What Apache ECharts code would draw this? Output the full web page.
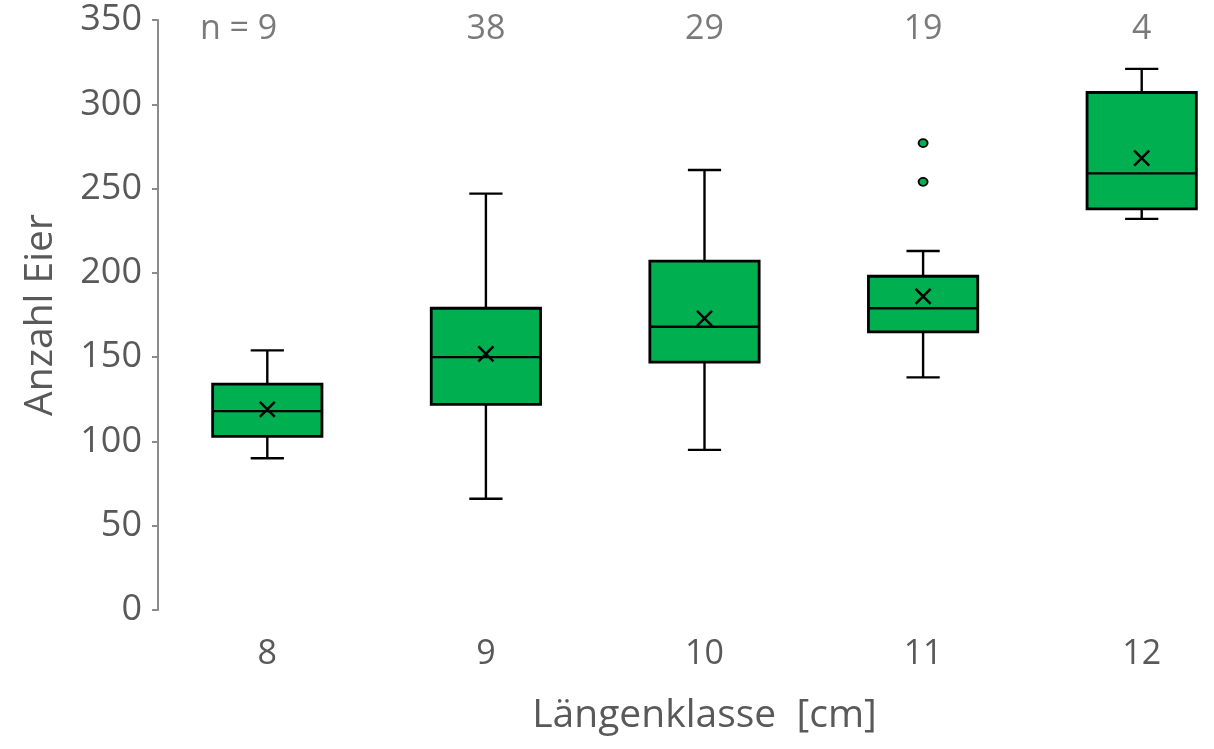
<!DOCTYPE html>
<html>
<head>
<meta charset="utf-8">
<script src="https://cdn.jsdelivr.net/npm/echarts@6/dist/echarts.min.js"></script>
<style>
html,body{margin:0;padding:0;background:#fff;}
#main{width:1214px;height:749px;}
</style>
</head>
<body>
<div id="main"></div>
<script>
// ---- data ----
const categories  = ['8', '9', '10', '11', '12'];
const whiskerLow  = [90, 66, 95, 138, 232];
const quartile1   = [103, 122, 147, 165, 238];
const medianVal   = [118, 150, 168, 179, 259];
const quartile3   = [134, 179, 207, 198, 307];
const whiskerHigh = [154, 247, 261, 213, 321];
const meanVal     = [119, 152, 173, 186, 268];
const outlierCat  = [3, 3];
const outlierVal  = [277, 254];
const counts      = [9, 38, 29, 19, 4];
const yTicks      = [0, 50, 100, 150, 200, 250, 300, 350];

const TEXT = '#595959';
const FONT = 'Open Sans';

const boxData = categories.map((c, i) => [i, whiskerLow[i], quartile1[i], medianVal[i], quartile3[i], whiskerHigh[i], meanVal[i]]);
const outlierData = outlierCat.map((c, i) => [c, outlierVal[i]]);
const countData = counts.map((n, i) => {
  const d = { value: [i, yTicks[yTicks.length - 1]], n: n };
  if (i === 0) d.label = { align: 'right', offset: [10, 9] };
  return d;
});

function renderBox(params, api) {
  const x = api.value(0);
  const band = api.size([1, 0])[0];
  const half = band * 0.25;
  const capHalf = band * 0.076;
  const pLow = api.coord([x, api.value(1)]);
  const pQ1 = api.coord([x, api.value(2)]);
  const pMed = api.coord([x, api.value(3)]);
  const pQ3 = api.coord([x, api.value(4)]);
  const pHigh = api.coord([x, api.value(5)]);
  const pMean = api.coord([x, api.value(6)]);
  const cx = pMed[0];
  const line = { stroke: '#000', lineWidth: 2.4 };
  const m = 7.5;
  return {
    type: 'group',
    children: [
      { type: 'line', shape: { x1: cx, y1: pHigh[1], x2: cx, y2: pQ3[1] }, style: line },
      { type: 'line', shape: { x1: cx, y1: pLow[1], x2: cx, y2: pQ1[1] }, style: line },
      { type: 'line', shape: { x1: cx - capHalf, y1: pHigh[1], x2: cx + capHalf, y2: pHigh[1] }, style: line },
      { type: 'line', shape: { x1: cx - capHalf, y1: pLow[1], x2: cx + capHalf, y2: pLow[1] }, style: line },
      { type: 'rect', shape: { x: cx - half, y: pQ3[1], width: half * 2, height: pQ1[1] - pQ3[1] },
        style: { fill: '#00AF50', stroke: '#000', lineWidth: 2.8 } },
      { type: 'line', shape: { x1: cx - half, y1: pMed[1], x2: cx + half, y2: pMed[1] }, style: line },
      { type: 'line', shape: { x1: cx - m, y1: pMean[1] - m, x2: cx + m, y2: pMean[1] + m }, style: { stroke: '#000', lineWidth: 2.5 } },
      { type: 'line', shape: { x1: cx - m, y1: pMean[1] + m, x2: cx + m, y2: pMean[1] - m }, style: { stroke: '#000', lineWidth: 2.5 } }
    ]
  };
}

const chart = echarts.init(document.getElementById('main'), null, { renderer: 'canvas' });
chart.setOption({
  backgroundColor: '#fff',
  animation: false,
  grid: { left: 158, top: 20, width: 1093, height: 590, containLabel: false, outerBoundsMode: 'none' },
  xAxis: {
    type: 'category',
    data: categories,
    boundaryGap: true,
    axisLine: { show: false },
    axisTick: { show: false },
    axisLabel: { color: TEXT, fontFamily: FONT, fontSize: 34, margin: 27 },
    name: 'Längenklasse  [cm]',
    nameLocation: 'middle',
    nameGap: 86,
    nameTextStyle: { color: TEXT, fontFamily: FONT, fontSize: 39 }
  },
  yAxis: {
    type: 'value',
    min: yTicks[0],
    max: yTicks[yTicks.length - 1],
    interval: 50,
    splitLine: { show: false },
    axisLine: { show: true, lineStyle: { color: '#8c8c8c', width: 2 } },
    axisTick: { show: true, length: 6, lineStyle: { color: '#8c8c8c', width: 2 } },
    axisLabel: { color: TEXT, fontFamily: FONT, fontSize: 36, margin: 16 },
    name: 'Anzahl Eier',
    nameLocation: 'middle',
    nameGap: 98,
    nameTextStyle: { color: TEXT, fontFamily: FONT, fontSize: 39 }
  },
  series: [
    {
      type: 'custom',
      renderItem: renderBox,
      data: boxData,
      encode: { x: 0, y: [1, 2, 3, 4, 5] },
      z: 2
    },
    {
      type: 'scatter',
      data: outlierData,
      symbol: 'circle',
      symbolSize: [9, 8],
      itemStyle: { color: '#00AF50', borderColor: '#000', borderWidth: 1.8, opacity: 1 },
      z: 3
    },
    {
      type: 'scatter',
      data: countData,
      symbolSize: 0,
      silent: true,
      label: {
        show: true,
        position: 'inside',
        offset: [0, 9],
        color: TEXT,
        fontFamily: FONT,
        fontSize: 34,
        formatter: function (p) { return (p.dataIndex === 0 ? 'n = ' : '') + p.data.n; }
      },
      z: 4
    }
  ]
});
</script>
</body>
</html>
